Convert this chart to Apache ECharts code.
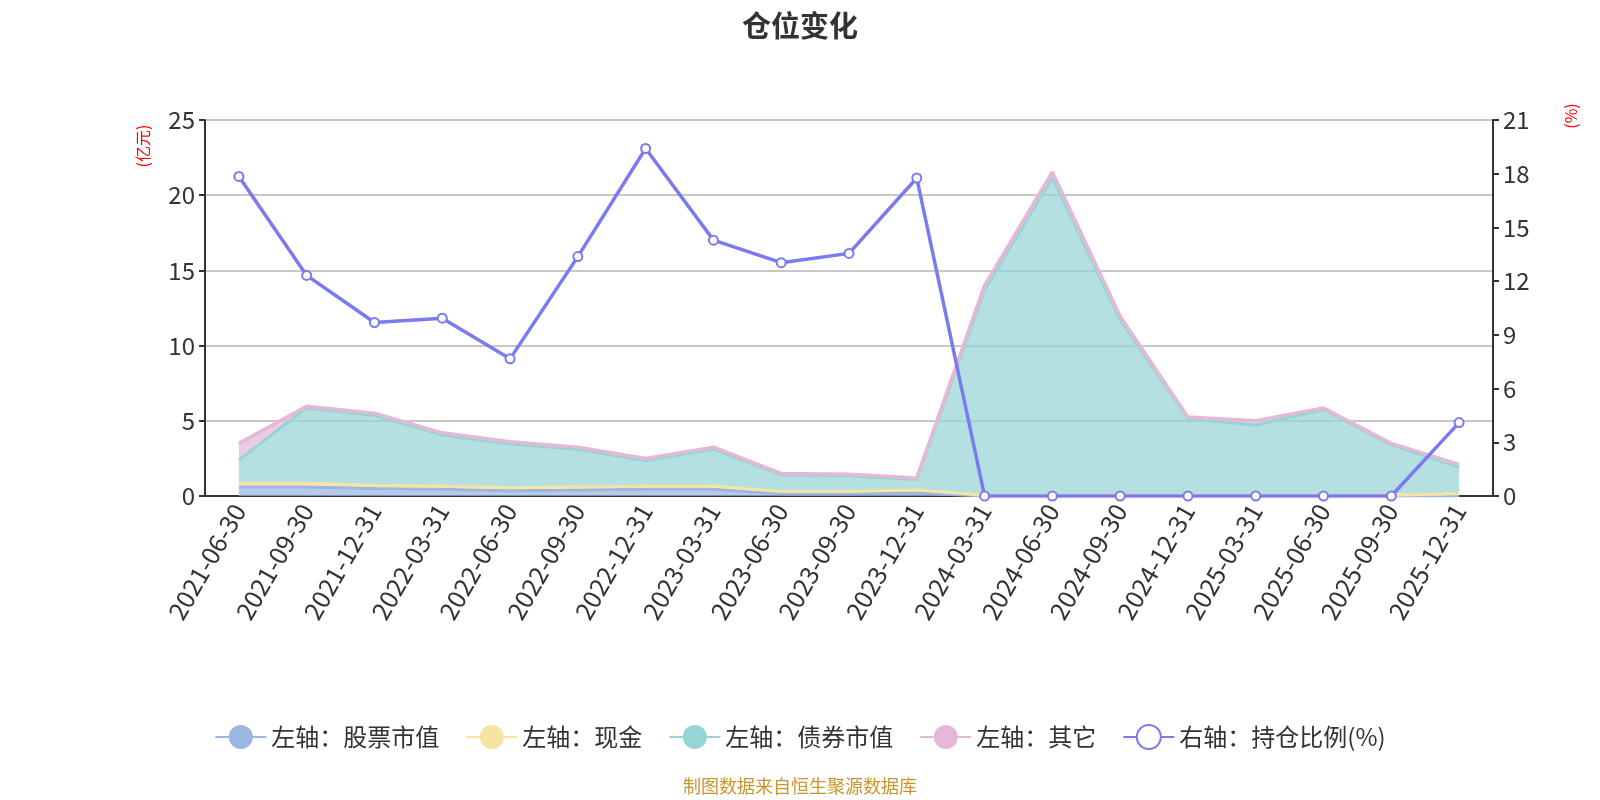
<!DOCTYPE html>
<html>
<head>
<meta charset="utf-8">
<script src="https://cdn.jsdelivr.net/npm/echarts@6/dist/echarts.min.js"></script>
<style>html,body{margin:0;padding:0;background:#fff}#c{width:1600px;height:800px}</style>
</head>
<body>
<div id="c"></div>
<script>
var categories = ['2021-06-30','2021-09-30','2021-12-31','2022-03-31','2022-06-30','2022-09-30','2022-12-31','2023-03-31','2023-06-30','2023-09-30','2023-12-31','2024-03-31','2024-06-30','2024-09-30','2024-12-31','2025-03-31','2025-06-30','2025-09-30','2025-12-31'];
var stockValue = [0.6,0.6,0.5,0.45,0.35,0.4,0.45,0.45,0.15,0.15,0.2,0,0,0,0,0,0,0,0];
var cashValue = [0.25,0.25,0.2,0.2,0.2,0.2,0.2,0.2,0.15,0.15,0.2,0.05,0.05,0.05,0.05,0.05,0.05,0.05,0.15];
var bondValue = [1.55,5.0,4.65,3.4,2.9,2.5,1.7,2.45,1.1,1.05,0.7,13.65,21.1,11.65,5.1,4.65,5.7,3.35,1.75];
var otherValue = [1.1,0.11,0.15,0.15,0.15,0.15,0.15,0.15,0.1,0.1,0.1,0.3,0.4,0.25,0.1,0.3,0.1,0.1,0.2];
var ratioValue = [17.85,12.32,9.69,9.93,7.66,13.37,19.41,14.29,13.03,13.55,17.76,0,0,0,0,0,0,0,4.10];
var leftTicks = {min:0, max:25, interval:5};
var rightTicks = {min:0, max:21, interval:3};

var FONT = '"Noto Sans CJK SC", "Noto Sans", sans-serif';
var chart = echarts.init(document.getElementById('c'));
function area(name, data, color, lw) {
  return {
    name: name, type: 'line', stack: 'total', data: data,
    symbol: 'circle', symbolSize: 8, showSymbol: false,
    lineStyle: {width: lw, color: color},
    itemStyle: {color: color},
    areaStyle: {color: color, opacity: 0.72},
    emphasis: {disabled: true}
  };
}
chart.setOption({
  animation: false,
  textStyle: {fontFamily: FONT},
  title: {text: '仓位变化', left: 'center', top: 6, textStyle: {fontSize: 29, fontWeight: 'bold', color: '#333', fontFamily: FONT}},
  grid: {left: 205, right: 107, top: 120, bottom: 304},
  legend: {
    top: 719, left: 'center', itemWidth: 51, itemHeight: 30, itemGap: 26,
    textStyle: {fontSize: 24, color: '#333', fontFamily: FONT},
    data: ['左轴：股票市值','左轴：现金','左轴：债券市值','左轴：其它','右轴：持仓比例(%)']
  },
  xAxis: {
    type: 'category', data: categories, boundaryGap: true,
    axisLine: {lineStyle: {color: '#333', width: 2}},
    axisTick: {lineStyle: {color: '#333', width: 2}, length: 6},
    axisLabel: {rotate: 60, fontSize: 25, color: '#333', margin: 10, interval: 0, fontFamily: FONT}
  },
  yAxis: [
    {type: 'value', min: leftTicks.min, max: leftTicks.max, interval: leftTicks.interval,
     axisLine: {show: true, lineStyle: {color: '#333', width: 2}},
     axisTick: {show: true, lineStyle: {color: '#333', width: 2}, length: 6},
     axisLabel: {fontSize: 24, color: '#333', margin: 10, fontFamily: FONT},
     splitLine: {lineStyle: {color: '#c8c8c8', width: 2}}},
    {type: 'value', min: rightTicks.min, max: rightTicks.max, interval: rightTicks.interval,
     axisLine: {show: true, lineStyle: {color: '#333', width: 2}},
     axisTick: {show: true, lineStyle: {color: '#333', width: 2}, length: 6},
     axisLabel: {fontSize: 24, color: '#333', margin: 10, fontFamily: FONT},
     splitLine: {show: false}}
  ],
  graphic: [
    {type: 'text', x: 143, y: 146, rotation: Math.PI/2, style: {text: '(亿元)', fill: '#ff0000', fontSize: 16, fontFamily: FONT, align: 'center', verticalAlign: 'middle'}},
    {type: 'text', x: 1571, y: 116, rotation: Math.PI/2, style: {text: '(%)', fill: '#ff0000', fontSize: 16, fontFamily: FONT, align: 'center', verticalAlign: 'middle'}},
    {type: 'text', left: 'center', top: 777, style: {text: '制图数据来自恒生聚源数据库', fill: '#c9962d', fontSize: 18, fontFamily: FONT}}
  ],
  series: [
    area('左轴：股票市值', stockValue, '#9bb6e0', 3),
    area('左轴：现金', cashValue, '#f7e4a2', 3),
    area('左轴：债券市值', bondValue, '#97d4d6', 3),
    area('左轴：其它', otherValue, '#e6b8d8', 3.5),
    {name: '右轴：持仓比例(%)', type: 'line', yAxisIndex: 1, data: ratioValue,
     symbol: 'emptyCircle', symbolSize: 9, showSymbol: true,
     lineStyle: {width: 3.5, color: '#7b7bf0'}, itemStyle: {color: '#7b7bf0', borderWidth: 2},
     z: 5, emphasis: {disabled: true}}
  ]
});
</script>
</body>
</html>
